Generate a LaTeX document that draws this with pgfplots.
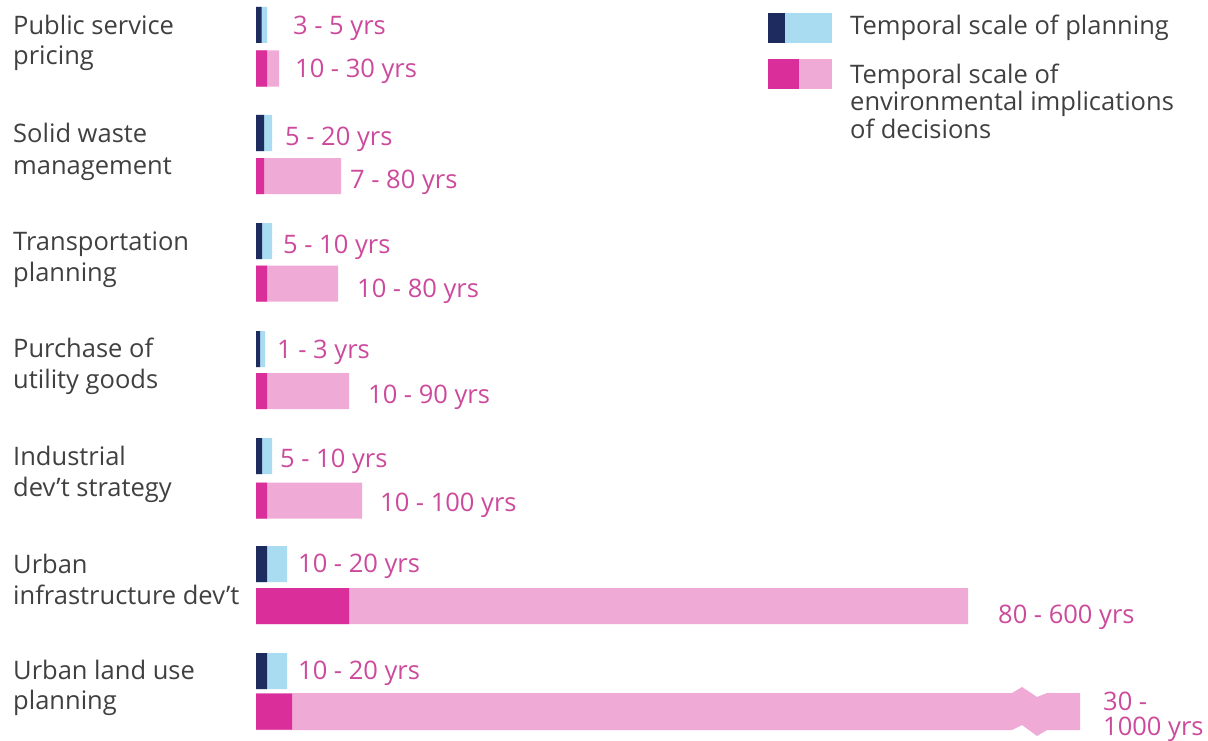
\documentclass[border=0pt]{standalone}
\usepackage{pgfplots}
\pgfplotsset{compat=1.18}
\usepackage{pgfplotstable}
\usepackage{fontspec}
\setmainfont{Open Sans}
\definecolor{navyc}{HTML}{1E2B5E}
\definecolor{lblue}{HTML}{A9DCF0}
\definecolor{magc}{HTML}{DA2F9B}
\definecolor{pinkc}{HTML}{EFAAD6}
\definecolor{txtg}{HTML}{404040}
\definecolor{labm}{HTML}{CC4A9C}

% planning bars: y centre (px from top), dark end, light end (px from bar start)
\pgfplotstableread{
y     dark  light
25    5.5   11
133   8     16
241   6     16
349   4     9
456   6     16
564   11    31
671   11    31
}\plan
% environmental bars
\pgfplotstableread{
y     dark  light
68.5  11    23
176   8     85
283.5 11    82
391   11    93
500.5 11    106
606   93    712
711.5 36    0
}\env
% grey texts
\pgfplotstableread{
x     y      label
-243  34.3   {Public service}
-243  64.5   {pricing}
-243  142.5  {Solid waste}
-243  174    {management}
-243  250    {Transportation}
-243  281    {planning}
-243  357.5  {Purchase of}
-243  388.5  {utility goods}
-243  465.5  {Industrial}
-243  496.5  {dev’t strategy}
-243  573    {Urban}
-243  604    {infrastructure dev’t}
-243  679.5  {Urban land use}
-243  709.5  {planning}
594   35     {Temporal scale of planning}
594   84     {Temporal scale of}
594   111    {environmental implications}
594   138.5  {of decisions}
}\greytext
% magenta value labels
\pgfplotstableread{
x     y      label
37    35     {3 - 5 yrs}
39    78     {10 - 30 yrs}
29    145    {5 - 20 yrs}
94    188    {7 - 80 yrs}
27    253    {5 - 10 yrs}
101   297    {10 - 80 yrs}
21    358    {1 - 3 yrs}
112   403    {10 - 90 yrs}
24    467    {5 - 10 yrs}
124   511    {10 - 100 yrs}
42    572    {10 - 20 yrs}
742   623    {80 - 600 yrs}
42    679    {10 - 20 yrs}
847   710    {30 -}
847   735    {1000 yrs}
}\valtext

\begin{document}
\begin{tikzpicture}
\begin{axis}[
  x=1bp, y=1bp, y dir=reverse,
  xmin=-256, xmax=952, ymin=0, ymax=741,
  hide axis, clip=false,
]
% planning bars
\addplot[xbar, bar width=36bp, bar shift=0pt, fill=lblue, draw=none] table[x=light, y=y] {\plan};
\addplot[xbar, bar width=36bp, bar shift=0pt, fill=navyc, draw=none] table[x=dark, y=y] {\plan};
% environmental bars
\addplot[xbar, bar width=36bp, bar shift=0pt, fill=pinkc, draw=none] table[x=light, y=y] {\env};
\addplot[fill=pinkc, draw=none] coordinates {(0,693) (756,693) (766,687) (781,697) (791,693) (824,693) (824,730) (791,730) (781,736) (766,725) (756,730) (0,730)} --cycle;
\addplot[xbar, bar width=36bp, bar shift=0pt, fill=magc, draw=none] table[x=dark, y=y] {\env};
% legend swatches
\addplot[fill=navyc, draw=none] coordinates {(512,13) (529,13) (529,43) (512,43)} --cycle;
\addplot[fill=lblue, draw=none] coordinates {(529,13) (576,13) (576,43) (529,43)} --cycle;
\addplot[fill=magc, draw=none] coordinates {(512,59) (543,59) (543,89) (512,89)} --cycle;
\addplot[fill=pinkc, draw=none] coordinates {(543,59) (576,59) (576,89) (543,89)} --cycle;
% texts
\addplot[draw=none, mark=none, nodes near coords, point meta=explicit symbolic,
  nodes near coords style={anchor=base west, inner sep=0pt, text=txtg, font=\fontsize{25.5bp}{30bp}\selectfont}]
  table[x=x, y=y, meta=label] {\greytext};
\addplot[draw=none, mark=none, nodes near coords, point meta=explicit symbolic,
  nodes near coords style={anchor=base west, inner sep=0pt, text=labm, font=\fontsize{25.5bp}{30bp}\selectfont}]
  table[x=x, y=y, meta=label] {\valtext};
\end{axis}
\pgfresetboundingbox
\path[use as bounding box] (current axis.south west) rectangle (current axis.north east);
\end{tikzpicture}
\end{document}
